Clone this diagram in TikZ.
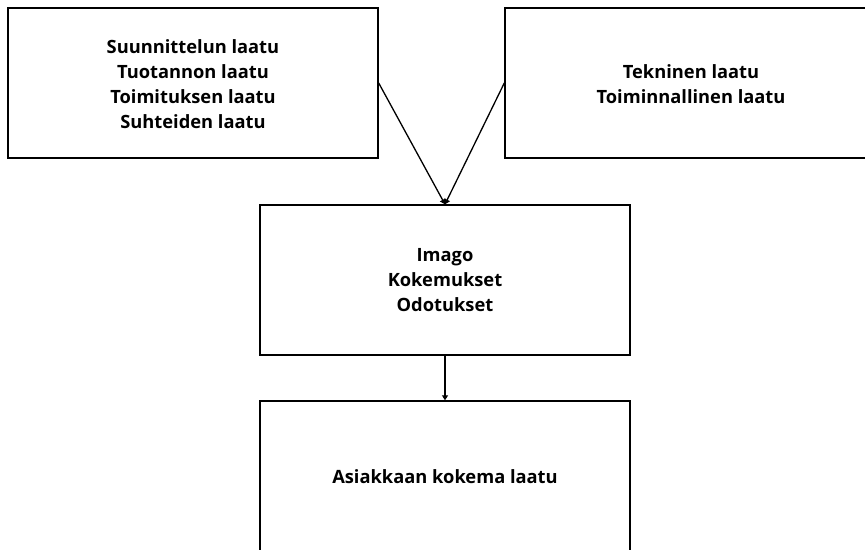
\documentclass[tikz,border=0pt]{standalone}
\usepackage{fontspec}
\setmainfont{Open Sans}
\usetikzlibrary{arrows.meta}
\begin{document}
\begin{tikzpicture}[x=1pt,y=-1pt,
  box/.style={draw=black,line width=1.4pt,fill=white,inner sep=0pt},
  lbl/.style={align=center,font=\bfseries\fontsize{18.3}{25}\selectfont},
  conn/.style={line width=1.3pt,-{Triangle[length=5pt,width=6pt]}}]
\clip (0,0) rectangle (865,549);
\useasboundingbox (0,0) rectangle (865,549);
\node[box,minimum width=370pt,minimum height=150pt] (A) at (193,83) {};
\node[box,minimum width=372pt,minimum height=150pt] (B) at (691,83) {};
\node[box,minimum width=370pt,minimum height=150pt] (C) at (445,280) {};
\node[box,minimum width=370pt,minimum height=150pt] (D) at (445,476) {};
\node[lbl] (tA) at (193,84) {Suunnittelun laatu\\Tuotannon laatu\\Toimituksen laatu\\Suhteiden laatu};
\node[lbl] (tB) at (691,84) {Tekninen laatu\\Toiminnallinen laatu};
\node[lbl] (tC) at (445,280) {Imago\\Kokemukset\\Odotukset};
\node[lbl] (tD) at (445,477) {Asiakkaan kokema laatu};
\draw[conn] (A.east) -- (C.north);
\draw[conn] (B.west) -- (C.north);
\draw[conn] (C.south) -- (D.north);
\end{tikzpicture}
\end{document}
